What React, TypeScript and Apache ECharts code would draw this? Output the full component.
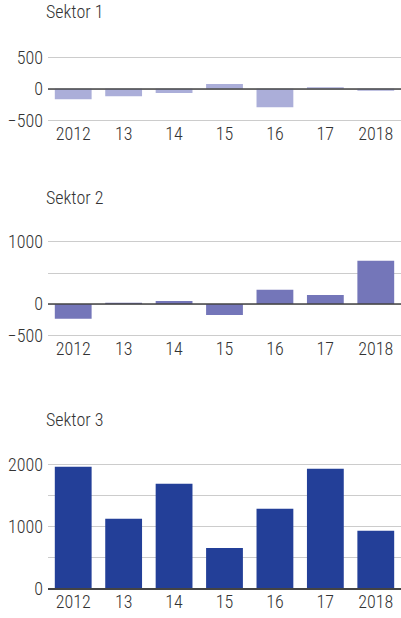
import React, { useEffect, useRef } from "react";
import * as echarts from "echarts";

const categories = ["2012", "13", "14", "15", "16", "17", "2018"];
const sektor1 = [-165, -118, -65, 76, -295, 27, -32];
const sektor2 = [-237, 18, 48, -177, 226, 145, 694];
const sektor3 = [1957, 1121, 1683, 654, 1281, 1925, 928];
const titles = ["Sektor 1", "Sektor 2", "Sektor 3"];
const colors = ["#abaed9", "#7476b9", "#233f98"];

const FONT = "'Roboto Condensed', 'Roboto', sans-serif";
const WEIGHT = 300;

function fmt(v: number) {
  return v < 0 ? "\u2212" + Math.abs(v) : String(v);
}

export default function App() {
  const ref = useRef<HTMLDivElement>(null);
  useEffect(() => {
    if (!ref.current) return;
    const chart = echarts.init(ref.current, null, { renderer: "svg" });
    const grids = [
      { left: 48, right: -3, top: 57.7, height: 62.3 },
      { left: 48, right: -3, top: 241.7, height: 93.3 },
      { left: 48, right: -3, top: 464, height: 124.7 },
    ];
    const yDefs = [
      { min: -500, max: 500, interval: 500, show: (v: number) => true },
      { min: -500, max: 1000, interval: 500, show: (v: number) => v % 1000 === 0 || v === -500 },
      { min: 0, max: 2000, interval: 500, show: (v: number) => v % 1000 === 0 },
    ];
    const data = [sektor1, sektor2, sektor3];
    const zeroWidths = [1.5, 1.5, 2];
    const titleTops = [2, 188.5, 410];
    chart.setOption({
      animation: false,
      textStyle: { fontFamily: FONT },
      title: titles.map((t, i) => ({
        text: t,
        left: 46,
        top: titleTops[i],
        padding: 0,
        textStyle: { fontFamily: FONT, fontSize: 18, fontWeight: WEIGHT, color: "#333" },
      })),
      grid: grids,
      xAxis: grids.map((_, i) => ({
        type: "category",
        gridIndex: i,
        data: categories,
        axisLine: { show: false, onZero: false },
        axisTick: { show: false },
        axisLabel: { fontFamily: FONT, fontSize: 18, fontWeight: WEIGHT, color: "#333", margin: 4, interval: 0 },
      })),
      yAxis: yDefs.map((d, i) => ({
        type: "value",
        gridIndex: i,
        min: d.min,
        max: d.max,
        interval: d.interval,
        axisLine: { show: false },
        axisTick: { show: false },
        splitLine: { show: true, lineStyle: { color: "#cccccc", width: 1 } },
        axisLabel: {
          fontFamily: FONT,
          fontSize: 18,
          fontWeight: WEIGHT,
          color: "#333",
          margin: 5,
          formatter: (v: number) => (d.show(v) ? fmt(v) : ""),
        },
      })),
      series: data.map((vals, i) => ({
        type: "bar",
        xAxisIndex: i,
        yAxisIndex: i,
        data: vals,
        barCategoryGap: "27%",
        itemStyle: { color: colors[i] },
        markLine: {
          silent: true,
          symbol: ["none", "none"],
          label: { show: false },
          lineStyle: { color: "#444", width: zeroWidths[i], type: "solid" },
          data: [{ yAxis: 0 }],
        },
      })),
    });
    return () => chart.dispose();
  }, []);
  return (
    <div
      ref={ref}
      style={{ position: "absolute", left: 0, top: 0, width: 401, height: 618, background: "#fff" }}
    />
  );
}
